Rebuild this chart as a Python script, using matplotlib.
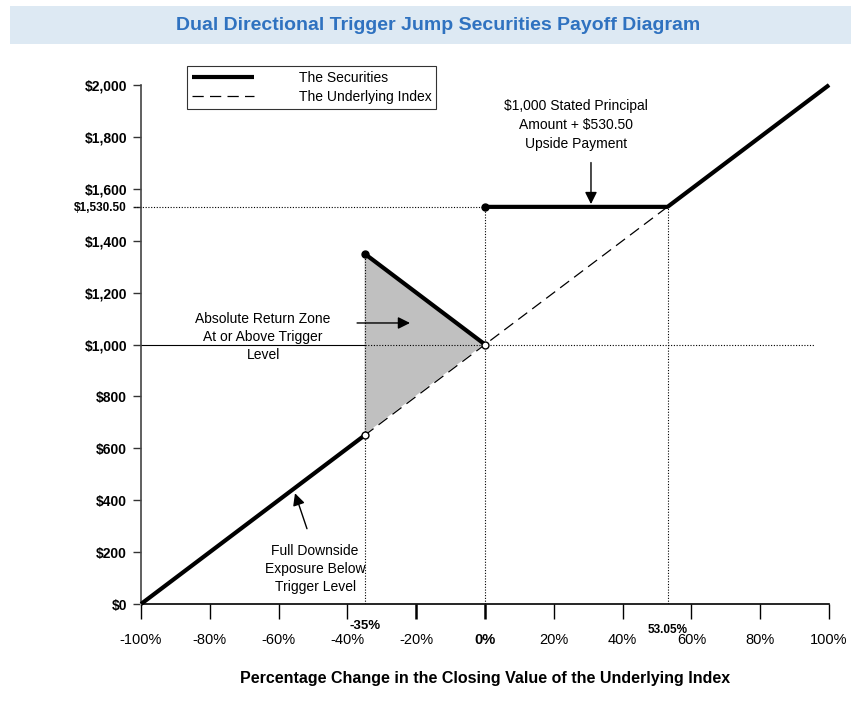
import numpy as np
import matplotlib
matplotlib.use("Agg")
import matplotlib.pyplot as plt
from matplotlib.patches import Rectangle

plt.rcParams['font.family'] = ['Liberation Sans', 'DejaVu Sans']

# payoff data
pct_ticks = [-100, -80, -60, -40, -20, 0, 20, 40, 60, 80, 100]
pct_labels = ['-100%', '-80%', '-60%', '-40%', '-20%', '0%', '20%', '40%', '60%', '80%', '100%']
usd_ticks = [0, 200, 400, 600, 800, 1000, 1200, 1400, 1600, 1800, 2000]
usd_labels = ['$0', '$200', '$400', '$600', '$800', '$1,000', '$1,200', '$1,400', '$1,600', '$1,800', '$2,000']

trigger = -35
cap_pct = 53.05
principal = 1000
upside_value = 1530.50

index_x = [-100, 100]
index_y = [0, 2000]

down_x = [-100, trigger]
down_y = [0, 650]
abs_x = [trigger, 0]
abs_y = [1350, 1000]
up_x = [0, cap_pct, 100]
up_y = [upside_value, upside_value, 2000]

fig = plt.figure(figsize=(8.51, 7.17), dpi=100)
ax = fig.add_axes([0.1657, 0.1576, 0.8085, 0.7238])

# title band
fig.patches.append(Rectangle((10 / 851, 0.9386), 1, 0.053, transform=fig.transFigure,
                             facecolor='#dde9f3', edgecolor='none', zorder=0))
fig.text(0.515, 0.965, 'Dual Directional Trigger Jump Securities Payoff Diagram',
         ha='center', va='center', color='#2f72c0', fontsize=14, fontweight='bold')

# shaded absolute return zone
ax.fill([trigger, trigger, 0], [down_y[1], abs_y[0], principal], color='#c0c0c0', lw=0, zorder=1)

# reference lines
dot = dict(color='black', lw=0.8, ls=(0, (1, 1.5)), zorder=2)
ax.plot([trigger, trigger], [0, abs_y[0]], **dot)
ax.plot([0, 0], [0, upside_value], **dot)
ax.plot([cap_pct, cap_pct], [0, upside_value], **dot)
ax.plot([-102, 0], [upside_value, upside_value], clip_on=False, **dot)
ax.plot([trigger, 96], [principal, principal], **dot)
ax.plot([-100, trigger], [principal, principal], color='black', lw=0.8, zorder=2)

# underlying index
ax.plot(index_x, index_y, color='white', lw=1.2, zorder=3, clip_on=False)
idx_line, = ax.plot(index_x, index_y, color='black', lw=0.9, ls=(0, (9, 5)), zorder=3, clip_on=False)

# securities
sec = dict(color='black', lw=3, solid_capstyle='butt', zorder=4, clip_on=False)
sec_line, = ax.plot(down_x, down_y, **sec)
ax.plot(abs_x, abs_y, **sec)
ax.plot(up_x, up_y, **sec)

# end points
ax.plot([trigger, 0], [abs_y[0], upside_value], 'o', color='black', ms=5, zorder=5)
ax.plot([trigger, 0], [down_y[1], principal], 'o', mfc='white', mec='black', mew=1, ms=5, zorder=5)

# axes
ax.set_xlim(-100, 100)
ax.set_ylim(0, 2000)
for s in ['top', 'right']:
    ax.spines[s].set_visible(False)
ax.spines['left'].set_color('#444444')
ax.spines['left'].set_linewidth(1.2)
ax.spines['bottom'].set_linewidth(1.2)

ax.set_yticks(usd_ticks + [upside_value])
ax.set_yticklabels(usd_labels + ['$1,530.50'])
for lab in ax.get_yticklabels():
    lab.set_fontweight('bold')
    lab.set_fontsize(10)
ax.get_yticklabels()[-1].set_fontsize(8.5)
ax.tick_params(axis='y', length=6, width=1, pad=4, color='#333333')

ax.set_xticks(pct_ticks)
ax.set_xticklabels(pct_labels)
ax.tick_params(axis='x', direction='out', length=11, width=1, pad=10, labelsize=10.5)
ax.get_xticklabels()[5].set_fontweight('bold')
# heavier ticks at -20% and 0%
ax.get_xaxis().get_major_ticks()[4].tick1line.set_markeredgewidth(1.8)
ax.get_xaxis().get_major_ticks()[5].tick1line.set_markeredgewidth(1.8)

ax.text(trigger, -85, '-35%', ha='center', va='center', fontsize=9.5, fontweight='bold')
ax.text(cap_pct, -100, '53.05%', ha='center', va='center', fontsize=8.5, fontweight='bold')

ax.set_xlabel('Percentage Change in the Closing Value of the Underlying Index',
              fontsize=11.5, fontweight='bold', labelpad=17)

# annotations
arrow = dict(arrowstyle='-|>', color='black', lw=1, mutation_scale=18)
ax.text(26.5, 1745, '$1,000 Stated Principal\nAmount + $530.50\nUpside Payment',
        ha='center', va='bottom', fontsize=10, linespacing=1.45)
ax.annotate('', xy=(30.8, upside_value), xytext=(30.8, 1712), arrowprops=arrow)
ax.annotate('', xy=(-21, 1083), xytext=(-38, 1083), arrowprops=arrow)
ax.text(-64.5, 1030, 'Absolute Return Zone\nAt or Above Trigger\nLevel', ha='center', va='center',
        fontsize=10, linespacing=1.35)
ax.annotate('', xy=(-55.5, 437), xytext=(-51.5, 280), arrowprops=arrow)
ax.text(-49.4, 135, 'Full Downside\nExposure Below\nTrigger Level', ha='center', va='center',
        fontsize=10, linespacing=1.4)

leg = ax.legend([sec_line, idx_line], ['The Securities', 'The Underlying Index'],
                loc='upper left', bbox_to_anchor=(0.2197, 0.908), bbox_transform=fig.transFigure,
                frameon=True, fancybox=False, edgecolor='black', fontsize=10, handlelength=4.5,
                handletextpad=3.2, borderpad=0.35, borderaxespad=0, labelspacing=0.35)
leg.get_frame().set_linewidth(0.8)

fig.savefig('out.png', dpi=100)
